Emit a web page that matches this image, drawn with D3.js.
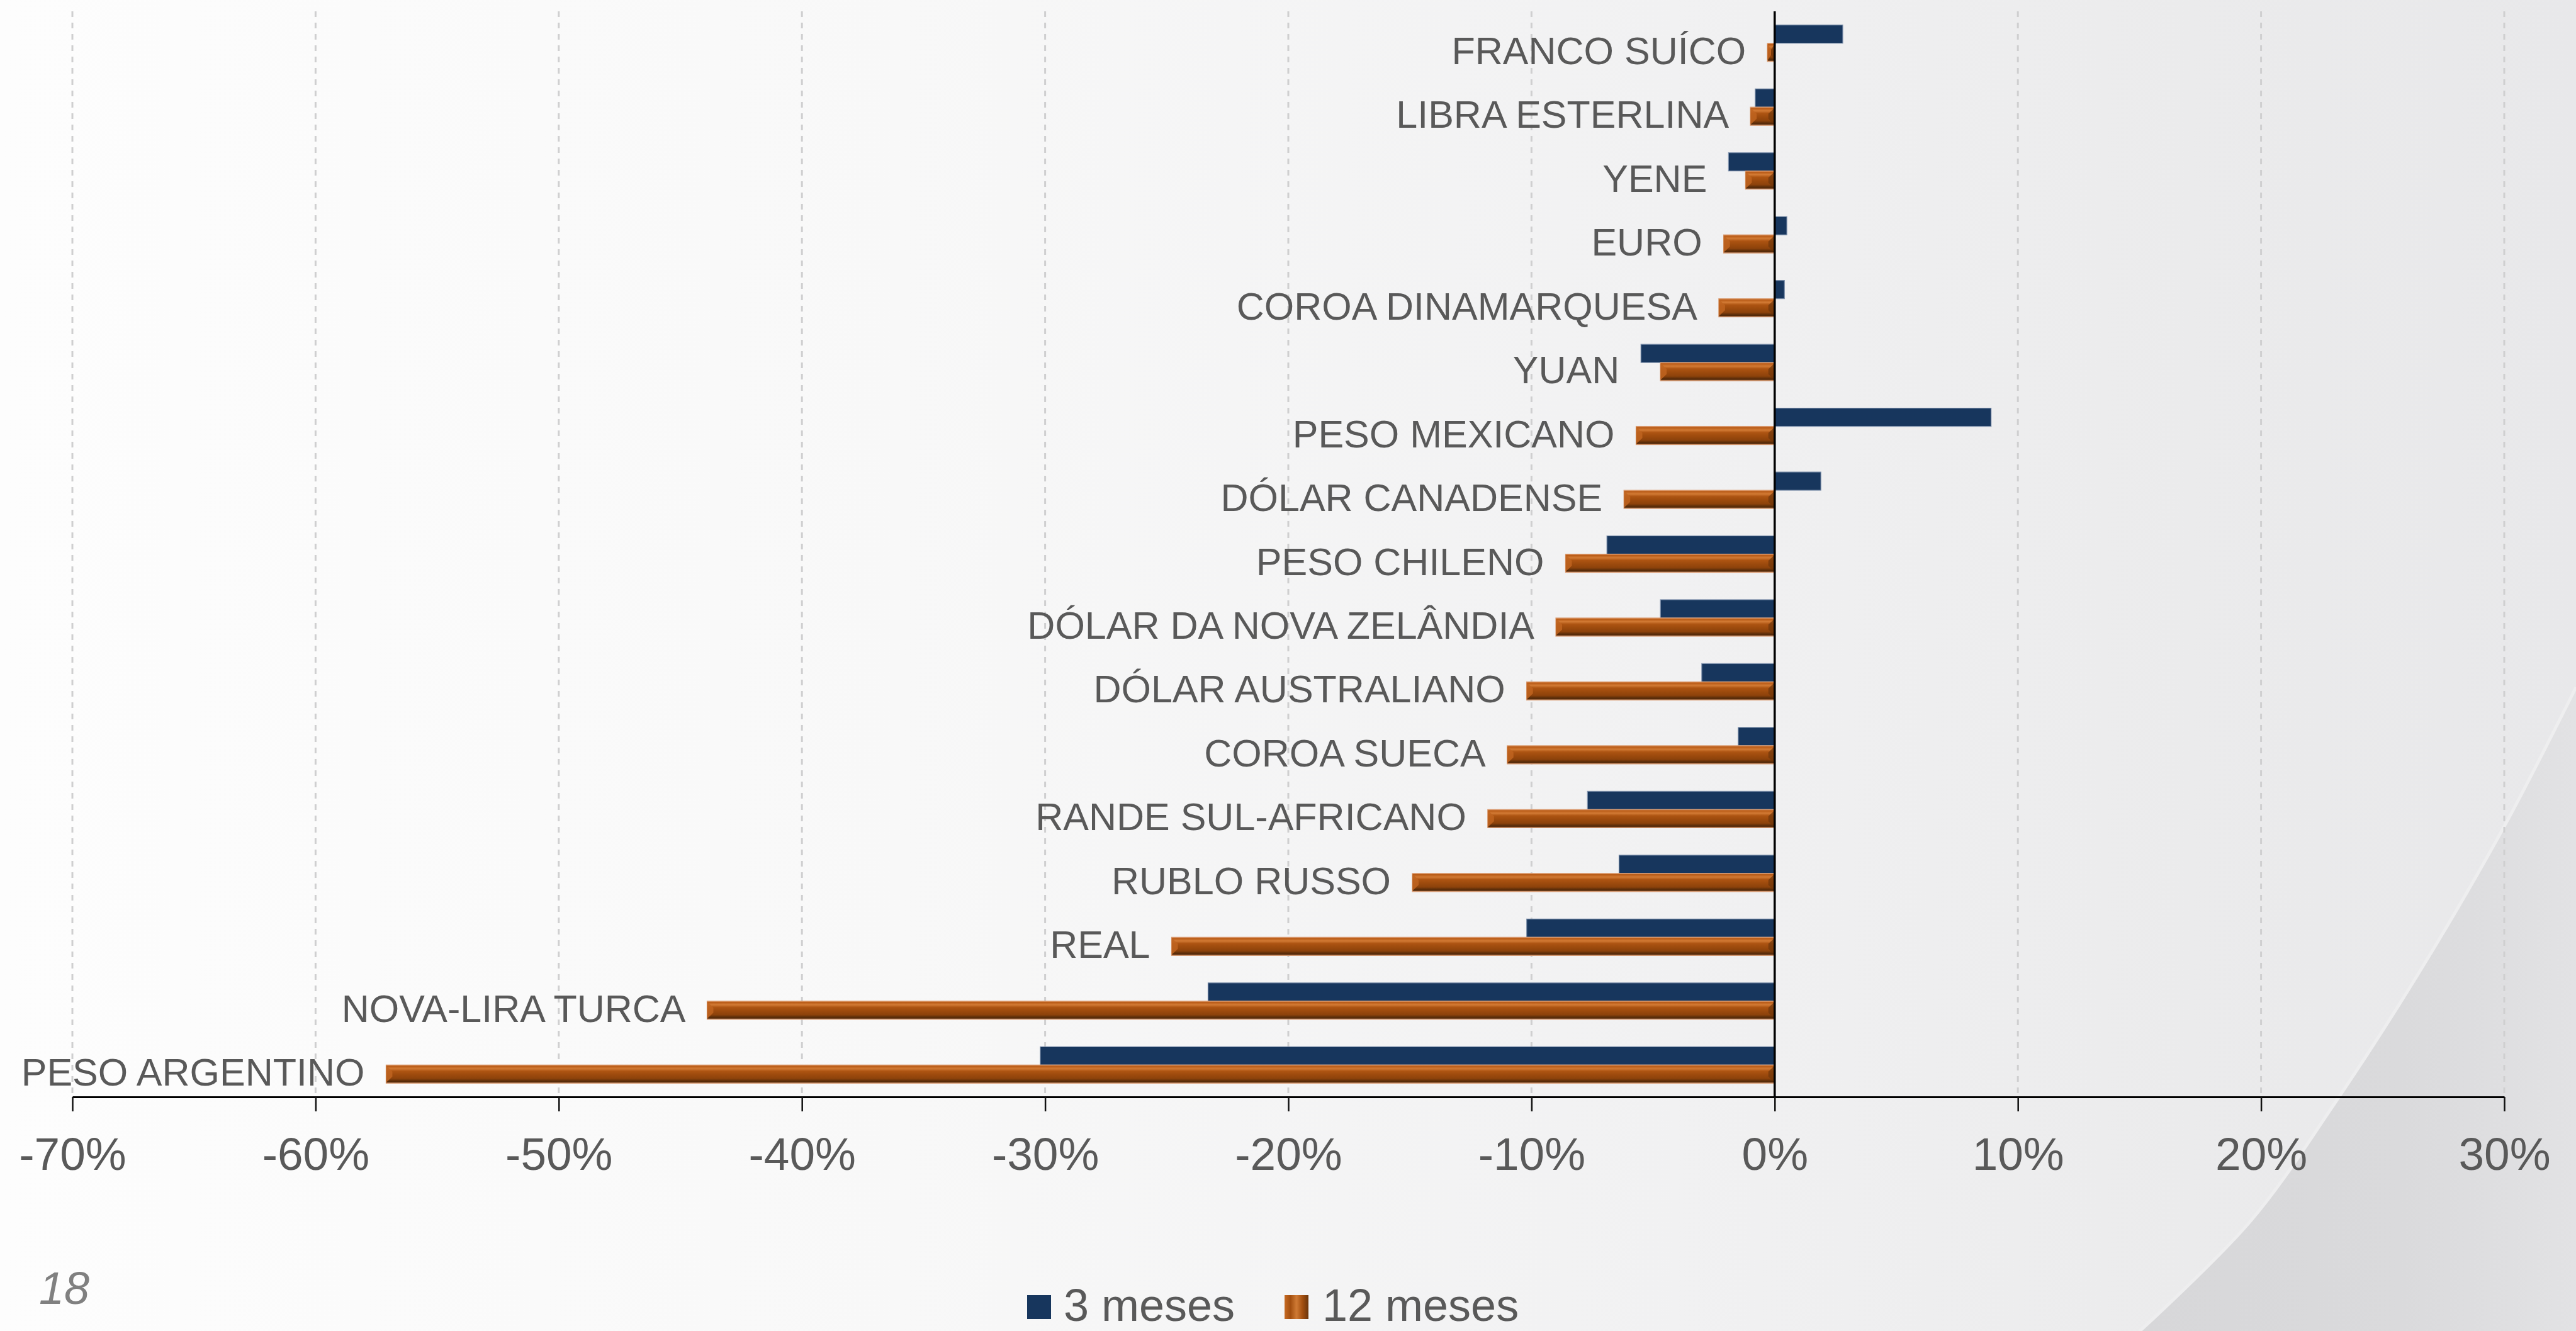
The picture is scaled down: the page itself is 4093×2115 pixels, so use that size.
<!DOCTYPE html>
<html>
<head>
<meta charset="utf-8">
<script src="https://cdn.jsdelivr.net/npm/d3@7"></script>
<style>
  html, body { margin: 0; padding: 0; overflow: hidden; background: #f4f4f5; }
  svg { display: block; }
  text { font-family: "Liberation Sans", Arial, "DejaVu Sans", sans-serif; }
</style>
</head>
<body>
<svg id="chart" width="4093" height="2115"></svg>
<script>
const categories = ["FRANCO SUÍCO","LIBRA ESTERLINA","YENE","EURO","COROA DINAMARQUESA","YUAN","PESO MEXICANO","DÓLAR CANADENSE","PESO CHILENO","DÓLAR DA NOVA ZELÂNDIA","DÓLAR AUSTRALIANO","COROA SUECA","RANDE SUL-AFRICANO","RUBLO RUSSO","REAL","NOVA-LIRA TURCA","PESO ARGENTINO"];
const meses3  = [2.8, -0.8, -1.9, 0.5, 0.4, -5.5, 8.9, 1.9, -6.9, -4.7, -3.0, -1.5, -7.7, -6.4, -10.2, -23.3, -30.2];
const meses12 = [-0.3, -1.0, -1.2, -2.1, -2.3, -4.7, -5.7, -6.2, -8.6, -9.0, -10.2, -11.0, -11.8, -14.9, -24.8, -43.9, -57.1];
const tickValues = [-70, -60, -50, -40, -30, -20, -10, 0, 10, 20, 30];
const seriesNames = ["3 meses", "12 meses"];
const pageNumber = "18";

const W = 4093, H = 2115;
const svg = d3.select("#chart");
const defs = svg.append("defs");

// background gradient
const bg = defs.append("linearGradient").attr("id","bg").attr("x1","0").attr("x2","1").attr("y1","0").attr("y2","0");
[[0,"#fdfdfd"],[0.35,"#f8f8f8"],[0.65,"#f1f1f2"],[0.85,"#ebebec"],[1,"#e8e8ea"]].forEach(s=>bg.append("stop").attr("offset",s[0]).attr("stop-color",s[1]));
svg.append("rect").attr("width",W).attr("height",H).attr("fill","url(#bg)");

// decorative curve bottom-right
const curveG = defs.append("linearGradient").attr("id","curveG").attr("x1","0").attr("x2","1").attr("y1","0").attr("y2","0");
[[0,"#d7d7d9"],[0.6,"#dadadc"],[1,"#e2e2e4"]].forEach(s=>curveG.append("stop").attr("offset",s[0]).attr("stop-color",s[1]));
const curvePts = [[4093,1092],[3979,1313],[3842,1548],[3709,1754],[3577,1939],[3400,2115]];
const curveLine = d3.line().curve(d3.curveCatmullRom);
svg.append("path")
  .attr("d", curveLine(curvePts) + "L4093,2115Z")
  .attr("fill","url(#curveG)");
svg.append("path")
  .attr("d", curveLine(curvePts))
  .attr("fill","none").attr("stroke","#eeeeef").attr("stroke-width",5);

// scales
const x = d3.scaleLinear().domain([-70, 30]).range([115, 3979]);
const y = d3.scaleBand().domain(categories).range([18, 1743]).padding(0);
const barH = 29;
const yTop = 18, yBase = 1743;

// gridlines
svg.append("g").selectAll("line").data(tickValues.filter(d=>d!==0)).join("line")
  .attr("x1", d=>x(d)).attr("x2", d=>x(d))
  .attr("y1", yTop).attr("y2", yBase)
  .attr("stroke","#cfcfd0").attr("stroke-width",3).attr("stroke-dasharray","9,9");

// orange gradient
const og = defs.append("linearGradient").attr("id","orangeG").attr("x1","0").attr("x2","0").attr("y1","0").attr("y2","1");
[[0,"#e29a66"],[0.06,"#b85a16"],[0.2,"#d27a34"],[0.34,"#ad5412"],[0.55,"#9c4a0d"],[0.75,"#8c420b"],[0.86,"#61300a"],[0.93,"#522808"],[1,"#c08a66"]]
  .forEach(s=>og.append("stop").attr("offset",s[0]).attr("stop-color",s[1]));
const ogl = defs.append("linearGradient").attr("id","orangeL").attr("x1","0").attr("x2","1").attr("y1","0").attr("y2","0");
[[0,"#c66a22"],[0.25,"#a34f10"],[0.5,"#cf7a34"],[0.75,"#a34f10"],[1,"#6a340b"]]
  .forEach(s=>ogl.append("stop").attr("offset",s[0]).attr("stop-color",s[1]));

const data = categories.map((c,i)=>({cat:c, v3:meses3[i], v12:meses12[i]}));

// 3-month bars
svg.append("g").selectAll("rect").data(data).join("rect")
  .attr("x", d=>x(Math.min(0,d.v3)))
  .attr("width", d=>Math.abs(x(d.v3)-x(0)))
  .attr("y", d=>y(d.cat)+y.bandwidth()/2-barH)
  .attr("height", barH)
  .attr("fill","#17365d")
  .attr("stroke","#7d90ab").attr("stroke-width",1.2);

// 12-month bars with bevel
const g12 = svg.append("g").selectAll("g").data(data).join("g");
g12.append("rect")
  .attr("x", d=>x(Math.min(0,d.v12)))
  .attr("width", d=>Math.abs(x(d.v12)-x(0)))
  .attr("y", d=>y(d.cat)+y.bandwidth()/2)
  .attr("height", barH)
  .attr("fill","url(#orangeG)")
  .attr("stroke","#d99a70").attr("stroke-width",1.2);
function bevel(d, side){
  const x0 = x(Math.min(0,d.v12)), x1 = x(Math.max(0,d.v12));
  const y0 = y(d.cat)+y.bandwidth()/2, y1 = y0 + barH;
  const b = Math.min(10, (x1-x0)/2), m = (y0+y1)/2;
  if (side === "L") return [[x0,y0+1],[x0+b,m-4],[x0+b,m+4],[x0,y1-1]].join(" ");
  return [[x1,y0+1],[x1-b,m-4],[x1-b,m+4],[x1,y1-1]].join(" ");
}
g12.append("polygon").attr("points", d=>bevel(d,"L")).attr("fill","#bf6420").attr("opacity",0.85);
g12.append("polygon").attr("points", d=>bevel(d,"R")).attr("fill","#6e360c").attr("opacity",0.7);

// zero axis line
svg.append("line").attr("x1",x(0)).attr("x2",x(0)).attr("y1",yTop).attr("y2",yBase)
  .attr("stroke","#000").attr("stroke-width",3.5);

// category labels
svg.append("g").selectAll("text").data(data).join("text")
  .attr("x", d=>x(Math.min(0,d.v3,d.v12)) - 34)
  .attr("y", d=>y(d.cat)+y.bandwidth()/2 + 33)
  .attr("text-anchor","end")
  .attr("font-size",61)
  .attr("fill","#595959")
  .text(d=>d.cat);

// x axis
const xAxis = d3.axisBottom(x).tickValues(tickValues).tickSize(23).tickSizeOuter(0).tickFormat(d=>d+"%");
const ax = svg.append("g").attr("transform",`translate(0,${yBase})`).call(xAxis);
ax.select(".domain").attr("stroke","#000").attr("stroke-width",3);
ax.selectAll(".tick line").attr("stroke","#111").attr("stroke-width",2.5);
ax.selectAll(".tick text")
  .attr("y", 116).attr("dy", 0)
  .attr("font-size",73)
  .attr("fill","#595959")
  .attr("font-family",'"Liberation Sans", Arial, sans-serif');

// legend
const legend = svg.append("g");
const legendItems = [
  {name: seriesNames[0], sx: 1632, tx: 1690, fill: "#17365d"},
  {name: seriesNames[1], sx: 2041, tx: 2101, fill: "url(#orangeL)"}
];
legendItems.forEach(it=>{
  legend.append("rect").attr("x",it.sx).attr("y",2058).attr("width",38).attr("height",38).attr("fill",it.fill);
  legend.append("text").attr("x",it.tx).attr("y",2099).attr("font-size",72).attr("fill","#595959").text(it.name);
});

// page number
svg.append("text").attr("x",62).attr("y",2072).attr("font-size",72).attr("font-style","italic")
  .attr("fill","#808080").text(pageNumber);
</script>
</body>
</html>
